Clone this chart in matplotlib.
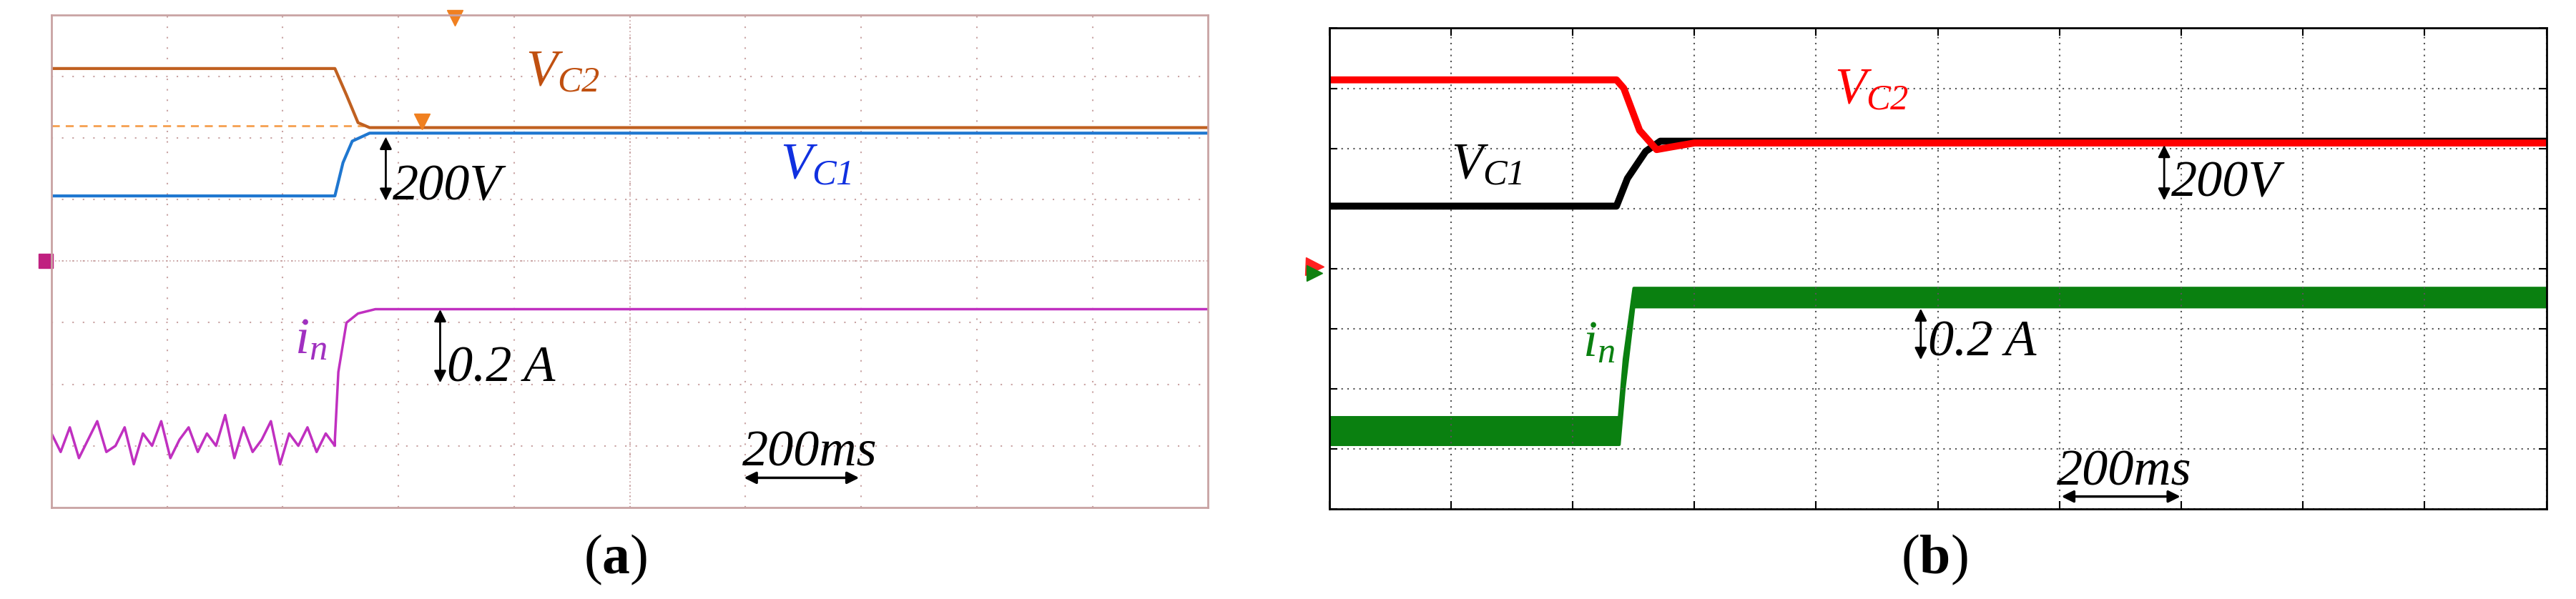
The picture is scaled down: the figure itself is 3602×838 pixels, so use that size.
import matplotlib
matplotlib.use("Agg")
import matplotlib.pyplot as plt
import numpy as np

plt.rcParams['font.family'] = ['Liberation Serif', 'DejaVu Serif']
plt.rcParams['mathtext.fontset'] = 'custom'
plt.rcParams['mathtext.it'] = 'Liberation Serif:italic'
plt.rcParams['mathtext.rm'] = 'Liberation Serif:italic'
plt.rcParams['mathtext.bf'] = 'Liberation Serif:bold'

# ---- data (grid divisions: x 0..10, y 0..8) ----
# panel (a)
a_vc2_t = [0.0, 2.45, 2.55, 2.65, 2.75, 10.0]
a_vc2_v = [7.13, 7.13, 6.7, 6.25, 6.17, 6.17]
a_vc1_t = [0.0, 2.45, 2.52, 2.6, 2.75, 10.0]
a_vc1_v = [5.06, 5.06, 5.6, 5.95, 6.08, 6.08]
a_in_pre = [1.2, 0.9, 1.3, 0.8, 1.1, 1.4, 0.9, 1.0, 1.3, 0.7, 1.2, 1.0, 1.4, 0.8, 1.1, 1.3,
            0.9, 1.2, 1.0, 1.5, 0.8, 1.3, 0.9, 1.1, 1.4, 0.7, 1.2, 1.0, 1.3, 0.9, 1.2, 1.0]
a_in_post_t = [2.45, 2.48, 2.55, 2.65, 2.8, 10.0]
a_in_post_v = [1.1, 2.2, 3.0, 3.15, 3.22, 3.22]
# panel (b)
b_vc2_t = [0.0, 2.36, 2.42, 2.55, 2.69, 2.8, 3.0, 10.0]
b_vc2_v = [7.14, 7.14, 7.0, 6.3, 5.98, 6.02, 6.09, 6.09]
b_vc1_t = [0.0, 2.36, 2.45, 2.6, 2.72, 3.0, 10.0]
b_vc1_v = [5.04, 5.04, 5.5, 5.95, 6.12, 6.12, 6.12]
b_in_t = [0.0, 2.38, 2.42, 2.5, 10.0]
b_in_lo = [1.08, 1.08, 2.0, 3.37, 3.37]
b_in_hi = [1.53, 1.53, 2.5, 3.68, 3.68]

fig = plt.figure(figsize=(36.02, 8.38), dpi=100)
FS = 52

# ---------- panel (a) ----------
axa = fig.add_axes([0.020, 0.153, 0.449, 0.822])
axa.set_xlim(0, 10); axa.set_ylim(0, 8)
gc = '#c9a3a3'
for x in range(1, 10):
    axa.axvline(x, color=gc, lw=1.5, ls=(0, (1, 6)))
for y in range(1, 8):
    axa.axhline(y, color=gc, lw=1.5, ls=(0, (1, 6)))
axa.axvline(5, color=gc, lw=1.2, ls=(0, (1, 2)))
axa.axhline(4, color=gc, lw=1.2, ls=(0, (1, 2)))
for s in axa.spines.values():
    s.set_color(gc); s.set_linewidth(2)
axa.set_xticks([]); axa.set_yticks([])
axa.plot([0, 2.7], [6.2, 6.2], color='#f5a050', lw=2, ls=(0, (4, 3)))
axa.plot(a_vc2_t, a_vc2_v, color='#c06020', lw=3)
axa.plot(a_vc1_t, a_vc1_v, color='#1f77d0', lw=3)
pre_t = np.linspace(0, 2.45, len(a_in_pre))
axa.plot(list(pre_t) + a_in_post_t, a_in_pre + a_in_post_v, color='#c030c0', lw=2.5)
axa.plot([3.49], [7.95], marker='v', color='#f08020', ms=16, clip_on=False)
axa.plot([3.2], [6.27], marker='v', color='#f08020', ms=16)
axa.plot([-0.05], [4], marker='s', color='#c02080', ms=14, clip_on=False)
axa.text(4.1, 6.85, r'$V_{C2}$', color='#c05010', fontsize=FS)
axa.text(6.3, 5.35, r'$V_{C1}$', color='#1030e0', fontsize=FS)
axa.text(2.1, 2.5, r'$i_n$', color='#a030c0', fontsize=FS)
axa.annotate('', xy=(2.89, 4.95), xytext=(2.89, 6.05),
             arrowprops=dict(arrowstyle='<|-|>', color='k', lw=2, mutation_scale=25))
axa.text(2.95, 5.0, '200V', fontsize=FS, style='italic')
axa.annotate('', xy=(3.36, 1.99), xytext=(3.36, 3.25),
             arrowprops=dict(arrowstyle='<|-|>', color='k', lw=2, mutation_scale=25))
axa.text(3.42, 2.05, '0.2 A', fontsize=FS, style='italic')
axa.annotate('', xy=(5.97, 0.48), xytext=(7.0, 0.48),
             arrowprops=dict(arrowstyle='<|-|>', color='k', lw=2.5, mutation_scale=25))
axa.text(5.97, 0.68, '200ms', fontsize=FS, style='italic')
fig.text(0.239, 0.065, r'($\mathbf{a}$)', fontsize=56, ha='center', va='center')

# ---------- panel (b) ----------
axb = fig.add_axes([0.516, 0.150, 0.4725, 0.803])
axb.set_xlim(0, 10); axb.set_ylim(0, 8)
axb.set_xticks(range(11)); axb.set_yticks(range(9))
axb.set_xticklabels([]); axb.set_yticklabels([])
axb.tick_params(direction='in', length=8, width=1.5, top=True, right=True)
axb.grid(True, color='#555555', ls=(0, (1, 3)), lw=1.5)
for s in axb.spines.values():
    s.set_linewidth(2)
axb.fill_between(b_in_t, b_in_lo, b_in_hi, color='#0a8010', lw=3, edgecolor='#0a8010')
axb.plot(b_vc1_t, b_vc1_v, color='black', lw=7)
axb.plot(b_vc2_t, b_vc2_v, color='#ff0000', lw=7)
axb.plot([-0.12], [4.03], marker='>', color='#ff2020', ms=18, clip_on=False)
axb.plot([-0.12], [3.93], marker='>', color='#108010', ms=16, clip_on=False)
axb.text(4.15, 6.75, r'$V_{C2}$', color='#ff0000', fontsize=FS)
axb.text(1.0, 5.5, r'$V_{C1}$', color='black', fontsize=FS)
axb.text(2.08, 2.55, r'$i_n$', color='#0a8010', fontsize=FS)
axb.annotate('', xy=(6.86, 5.1), xytext=(6.86, 6.09),
             arrowprops=dict(arrowstyle='<|-|>', color='k', lw=2, mutation_scale=25))
axb.text(6.92, 5.2, '200V', fontsize=FS, style='italic')
axb.annotate('', xy=(4.86, 2.45), xytext=(4.86, 3.37),
             arrowprops=dict(arrowstyle='<|-|>', color='k', lw=2, mutation_scale=25))
axb.text(4.92, 2.55, '0.2 A', fontsize=FS, style='italic')
axb.annotate('', xy=(6.0, 0.21), xytext=(7.01, 0.21),
             arrowprops=dict(arrowstyle='<|-|>', color='k', lw=2.5, mutation_scale=25))
axb.text(5.98, 0.4, '200ms', fontsize=FS, style='italic')
fig.text(0.751, 0.065, r'($\mathbf{b}$)', fontsize=56, ha='center', va='center')

fig.savefig('out.png', dpi=100)
